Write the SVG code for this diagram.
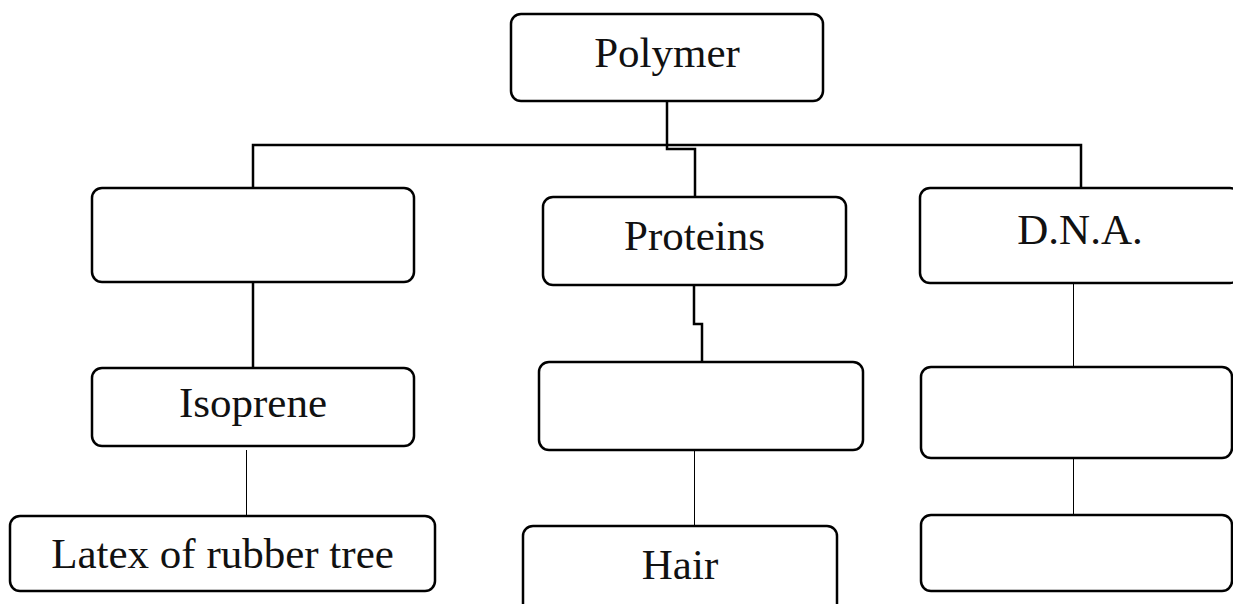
<svg xmlns="http://www.w3.org/2000/svg" width="1233" height="604" viewBox="0 0 1233 604">
<style>
.box{fill:#fff;stroke:#000;stroke-width:2.5}
.lbl{font-family:"Liberation Serif","Times New Roman",serif;font-size:43px;fill:#111;text-anchor:middle}
.thick{fill:none;stroke:#000;stroke-width:2.5}
.thin{fill:none;stroke:#000;stroke-width:1}
</style>
<rect width="1233" height="604" fill="#fff"/>
<g id="connectors">
<path class="thick" d="M667 101 V149 H695 V197"/>
<path class="thick" d="M253 188 V145 H1081 V188"/>
<path class="thick" d="M253 282 V368"/>
<path class="thick" d="M694 285 V324 H702 V362"/>
<path class="thin" d="M246.5 450 V517"/>
<path class="thin" d="M694.5 450 V527"/>
<path class="thin" d="M1073.5 283 V367"/>
<path class="thin" d="M1073.5 458 V515"/>
</g>
<g id="polymer"><rect class="box" x="511" y="14" width="312" height="87" rx="10"/><text class="lbl" x="667" y="67">Polymer</text></g>
<g id="left1"><rect class="box" x="92" y="188" width="322" height="94" rx="10"/></g>
<g id="proteins"><rect class="box" x="543" y="197" width="303" height="88" rx="10"/><text class="lbl" x="694.5" y="250">Proteins</text></g>
<g id="dna"><rect class="box" x="920" y="188" width="320" height="95" rx="10"/><text class="lbl" x="1080" y="244">D.N.A.</text></g>
<g id="isoprene"><rect class="box" x="92" y="368" width="322" height="78" rx="10"/><text class="lbl" x="253" y="417">Isoprene</text></g>
<g id="mid2"><rect class="box" x="539" y="362" width="324" height="88" rx="10"/></g>
<g id="right2"><rect class="box" x="921" y="367" width="311" height="91" rx="10"/></g>
<g id="latex"><rect class="box" x="10" y="516" width="425" height="75" rx="10"/><text class="lbl" x="222.5" y="568">Latex of rubber tree</text></g>
<g id="hair"><rect class="box" x="523" y="526" width="314" height="90" rx="10"/><text class="lbl" x="680" y="579">Hair</text></g>
<g id="right3"><rect class="box" x="921" y="515" width="311" height="76" rx="10"/></g>
</svg>
